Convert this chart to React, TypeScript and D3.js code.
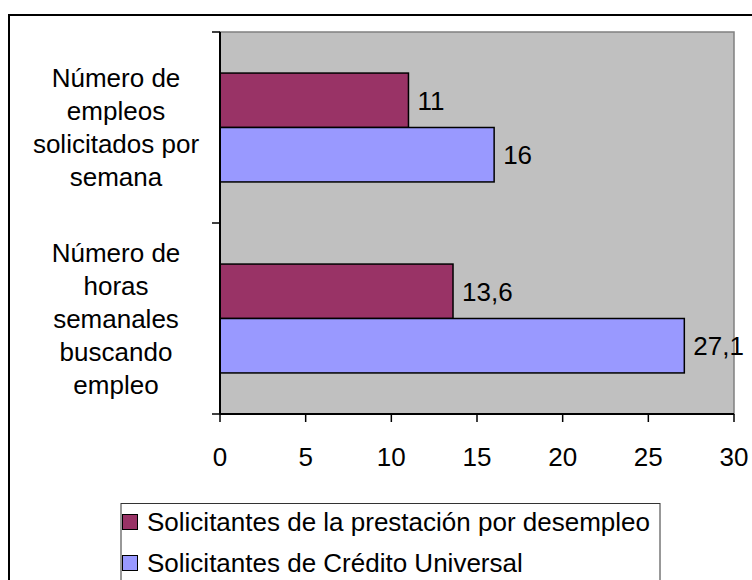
import React from "react";
import * as d3 from "d3";

const categories = ["empleos", "horas"];
const categoryLines = [
  ["Número de", "empleos", "solicitados por", "semana"],
  ["Número de", "horas", "semanales", "buscando", "empleo"],
];
const seriesNames = [
  "Solicitantes de la prestación por desempleo",
  "Solicitantes de Crédito Universal",
];
const prestacionValues = [11, 13.6];
const creditoValues = [16, 27.1];
const xTicks = [0, 5, 10, 15, 20, 25, 30];

const colors = ["#993366", "#9999FF"];
const font = "'Liberation Sans', Arial, sans-serif";

export default function App() {
  const width = 752;
  const height = 580;
  const plot = { left: 220, right: 734, top: 32, bottom: 414 };

  const x = d3.scaleLinear().domain([0, 30]).range([plot.left, plot.right]);
  const y = d3
    .scaleBand<string>()
    .domain(categories)
    .range([plot.top, plot.bottom])
    .paddingInner(0.43)
    .paddingOuter(0.215);
  const inner = d3
    .scaleBand<number>()
    .domain([0, 1])
    .range([0, y.bandwidth()]);

  const series = [prestacionValues, creditoValues];
  const fmt = (v: number) => String(v).replace(".", ",");

  // boundaries between categories for the y-axis ticks
  const yTicks = [plot.top, (plot.top + plot.bottom) / 2, plot.bottom];

  return (
    <svg
      width={width}
      height={height}
      style={{ position: "absolute", left: 0, top: 0, background: "#fff" }}
      fontFamily={font}
    >
      {/* outer chart border */}
      <rect x={9} y={15} width={800} height={700} fill="none" stroke="#000" strokeWidth={2} />

      {/* plot area */}
      <rect
        x={plot.left}
        y={plot.top}
        width={plot.right - plot.left}
        height={plot.bottom - plot.top}
        fill="#C0C0C0"
        stroke="#808080"
        strokeWidth={1.5}
      />

      {series.map((vals, si) =>
        categories.map((c, ci) => {
          const by = (y(c) ?? 0) + (inner(si) ?? 0);
          const bh = inner.bandwidth();
          return (
            <g key={`${si}-${ci}`}>
              <rect
                x={x(0)}
                y={by}
                width={x(vals[ci]) - x(0)}
                height={bh}
                fill={colors[si]}
                stroke="#000"
                strokeWidth={1.5}
              />
              <text x={x(vals[ci]) + 9} y={by + bh / 2 + 9.5} fontSize={26} fill="#000">
                {fmt(vals[ci])}
              </text>
            </g>
          );
        })
      )}

      {/* axes */}
      <line x1={plot.left} y1={plot.top} x2={plot.left} y2={plot.bottom} stroke="#000" strokeWidth={2} />
      <line x1={plot.left} y1={plot.bottom} x2={plot.right} y2={plot.bottom} stroke="#000" strokeWidth={2} />
      {yTicks.map((t) => (
        <line key={t} x1={plot.left - 8} y1={t} x2={plot.left} y2={t} stroke="#000" strokeWidth={1.5} />
      ))}
      {xTicks.map((t) => (
        <g key={t}>
          <line x1={x(t)} y1={plot.bottom} x2={x(t)} y2={plot.bottom + 8} stroke="#000" strokeWidth={1.5} />
          <text x={x(t)} y={466} textAnchor="middle" fontSize={26} fill="#000">
            {t}
          </text>
        </g>
      ))}

      {/* category labels */}
      {categories.map((c, ci) => {
        const lines = categoryLines[ci];
        const cy = (y(c) ?? 0) + y.bandwidth() / 2;
        return (
          <text key={c} textAnchor="middle" fontSize={26} fill="#000">
            {lines.map((l, i) => (
              <tspan key={i} x={116} y={cy + (i - (lines.length - 1) / 2) * 33 + 9}>
                {l}
              </tspan>
            ))}
          </text>
        );
      })}

      {/* legend */}
      <rect x={121} y={503.5} width={539} height={120} fill="#fff" stroke="#333" strokeWidth={1} />
      {seriesNames.map((s, i) => (
        <g key={s}>
          <rect x={122.5} y={514.5 + i * 41} width={15} height={15} fill={colors[i]} stroke="#000" strokeWidth={1} />
          <text x={147} y={531 + i * 41} fontSize={26} fill="#000">
            {s}
          </text>
        </g>
      ))}
    </svg>
  );
}
